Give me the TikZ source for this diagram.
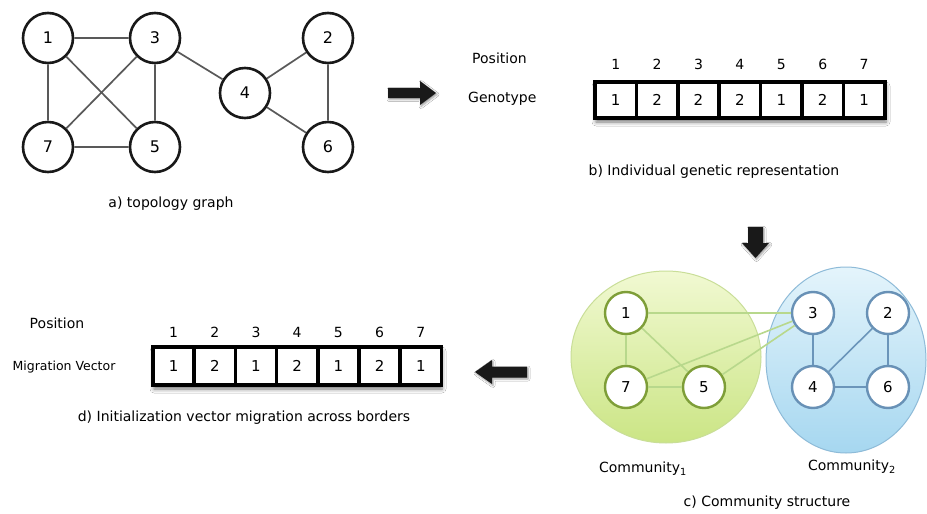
\documentclass[tikz,border=0pt]{standalone}
\usepackage{fontspec}
\setmainfont{DejaVu Sans}
\usetikzlibrary{shadows.blur}

\definecolor{grnline}{HTML}{B8D88C}
\definecolor{grnnode}{HTML}{7E9E38}
\definecolor{blueline}{HTML}{6B95BA}
\definecolor{bluenode}{HTML}{6891B6}
\definecolor{grntop}{HTML}{F1F9D2}
\definecolor{grnbot}{HTML}{CBE585}
\definecolor{grnrim}{HTML}{C9DE98}
\definecolor{bluetop}{HTML}{E4F4FB}
\definecolor{bluebot}{HTML}{A6D7F0}
\definecolor{bluerim}{HTML}{8EBBD8}

\tikzset{
  lbl/.style={font=\fontsize{14}{16}\selectfont, inner sep=1pt},
  num/.style={font=\fontsize{14}{16}\selectfont, inner sep=1pt},
  topo/.style={circle, draw=black!90, line width=2.6pt, fill=white,
    minimum size=50pt, inner sep=0pt, font=\fontsize{16}{18}\selectfont},
  topoedge/.style={draw=black!65, line width=1.7pt},
  cell/.style={rectangle, draw=black, line width=3.6pt, fill=white,
    minimum width=41.3pt, minimum height=36pt, inner sep=0pt,
    font=\fontsize{15}{17}\selectfont},
  rowshadow/.style={blur shadow={shadow xshift=1pt, shadow yshift=-4pt,
    shadow blur radius=4pt, shadow opacity=55}},
  arrowfill/.style={fill=black!90,
    blur shadow={shadow xshift=1pt, shadow yshift=-1.5pt,
      shadow blur radius=2pt, shadow opacity=40}},
  gnode/.style={circle, draw=grnnode, line width=2.4pt, fill=white,
    minimum size=42pt, inner sep=0pt, font=\fontsize{15}{17}\selectfont},
  bnode/.style={circle, draw=bluenode, line width=2.4pt, fill=white,
    minimum size=42pt, inner sep=0pt, font=\fontsize{15}{17}\selectfont},
  gedge/.style={draw=grnline, line width=1.6pt},
  bedge/.style={draw=blueline, line width=1.6pt},
}

\begin{document}
\begin{tikzpicture}[x=1pt, y=-1pt]
\useasboundingbox (0,0) rectangle (927,514);
\fill[white] (0,0) rectangle (927,514);

% ---------- a) topology graph ----------
\node[topo] (a1) at (48,38) {1};
\node[topo] (a3) at (155,38) {3};
\node[topo] (a7) at (48,147) {7};
\node[topo] (a5) at (155,147) {5};
\node[topo] (a4) at (245,93) {4};
\node[topo] (a2) at (328,38) {2};
\node[topo] (a6) at (328,147) {6};
\path[topoedge] (a1) -- (a3) (a1) -- (a7) (a1) -- (a5) (a3) -- (a7)
  (a3) -- (a5) (a7) -- (a5) (a3) -- (a4) (a4) -- (a2) (a4) -- (a6)
  (a2) -- (a6);
\node[lbl] (capa) at (171,204) {a) topology graph};

% ---------- block arrows between the panels ----------
% right
\fill[arrowfill] (388,88) -- (420,88) -- (420,81) -- (436,93) -- (420,105)
  -- (420,98) -- (388,98) -- cycle;
% down
\fill[arrowfill] (748,227) -- (763,227) -- (763,243) -- (769,243)
  -- (755.5,258) -- (742,243) -- (748,243) -- cycle;
% left
\fill[arrowfill] (527,366.5) -- (492,366.5) -- (492,360) -- (475,372)
  -- (492,384) -- (492,377.5) -- (527,377.5) -- cycle;

% ---------- b) individual genetic representation ----------
\node[lbl, anchor=west] (posb) at (471,58) {Position};
\node[lbl, anchor=west] (genb) at (467,99) {Genotype};
\fill[white, rowshadow] (595,82) rectangle (885,118);
\foreach \i/\v in {1/1,2/2,3/2,4/2,5/1,6/2,7/1}{
  \node[cell] (b\i) at ({595+41.4*(\i-0.5)},100) {\v};
  \node[num] (bp\i) at ({595+41.4*(\i-0.5)},64) {\i};
}
\node[lbl] (capb) at (714,172) {b) Individual genetic representation};

% ---------- c) community structure ----------
\shade[top color=grntop, bottom color=grnbot, draw=grnrim, line width=1pt]
  (666,357) ellipse [x radius=95, y radius=86];
\shade[top color=bluetop, bottom color=bluebot, draw=bluerim, line width=1pt]
  (846,360) ellipse [x radius=80, y radius=93];

\node[gnode] (c1) at (626,313) {1};
\node[gnode] (c7) at (626,387) {7};
\node[gnode] (c5) at (704,387) {5};
\node[bnode] (c3) at (813,313) {3};
\node[bnode] (c2) at (888,313) {2};
\node[bnode] (c4) at (813,387) {4};
\node[bnode] (c6) at (888,387) {6};
\path[gedge] (c1) -- (c3) (c1) -- (c7) (c1) -- (c5) (c7) -- (c3)
  (c5) -- (c3) (c7) -- (c5);
\path[bedge] (c3) -- (c4) (c4) -- (c2) (c2) -- (c6) (c4) -- (c6);

\node[lbl] (com1) at (643,469) {Community\textsubscript{1}};
\node[lbl] (com2) at (852,467) {Community\textsubscript{2}};
\node[lbl] (capc) at (767,503) {c) Community structure};

% ---------- d) migration vector ----------
\node[lbl] (posd) at (57,323) {Position};
\node[lbl, font=\fontsize{12.5}{14}\selectfont] (migd) at (64,367) {Migration Vector};
\fill[white, rowshadow] (153,347) rectangle (441,385);
\foreach \i/\v in {1/1,2/2,3/1,4/2,5/1,6/2,7/1}{
  \node[cell, minimum height=38pt] (d\i) at ({153+41.2*(\i-0.5)},366) {\v};
  \node[num] (dp\i) at ({153+41.2*(\i-0.5)},332) {\i};
}
\node[lbl] (capd) at (244,418) {d) Initialization vector migration across borders};
\end{tikzpicture}
\end{document}
